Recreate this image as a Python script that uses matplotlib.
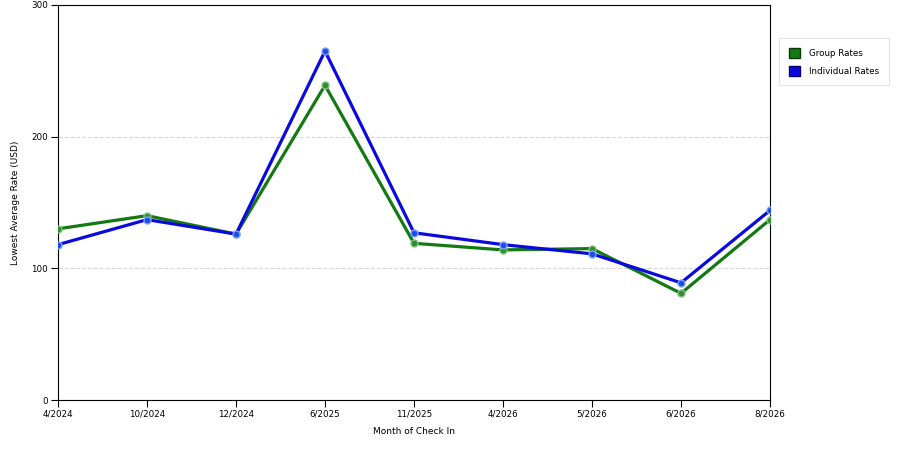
import matplotlib
matplotlib.use("Agg")
import matplotlib.pyplot as plt

# valeurs
mois = ["4/2024", "10/2024", "12/2024", "6/2025", "11/2025",
        "4/2026", "5/2026", "6/2026", "8/2026"]
tarif_groupe = [130, 140, 126, 239, 119, 114, 115, 81, 137]
tarif_individuel = [118, 137, 126, 265, 127, 118, 111, 89, 144]

plt.rcParams['font.family'] = ['DejaVu Sans']

fig = plt.figure(figsize=(9, 4.5), dpi=100)
ax = fig.add_axes([58/900, 50/450, 712/900, 395/450])

x = list(range(len(mois)))
ax.plot(x, tarif_groupe, color="#137a13", lw=2.3, marker="o", ms=5,
        mfc="#2f8f2f", mec="#7fbf7f", mew=1, label="Group Rates", zorder=3)
ax.plot(x, tarif_individuel, color="#0a0ae0", lw=2.3, marker="o", ms=5,
        mfc="#1a4fe8", mec="#7f9fff", mew=1, label="Individual Rates", zorder=4)

ax.set_xlim(0, len(mois) - 1)
ax.set_ylim(0, 300)
ax.set_yticks([0, 100, 200, 300])
ax.set_xticks(x)
ax.set_xticklabels(mois)
ax.tick_params(labelsize=6.3, length=5, width=0.8, direction="out", pad=2)
ax.grid(axis="y", linestyle="--", color="#d8d8d8", lw=0.8)
ax.set_axisbelow(True)
for s in ax.spines.values():
    s.set_linewidth(0.8)

ax.set_xlabel("Month of Check In", fontsize=6.5, labelpad=6)
ax.set_ylabel("Lowest Average Rate (USD)", fontsize=6.5, labelpad=8)

leg = fig.legend(handles=[plt.Rectangle((0, 0), 1, 1, fc="#137a13", ec="#0a3a0a"),
                          plt.Rectangle((0, 0), 1, 1, fc="#0a0ae0", ec="#05056a")],
                 labels=["Group Rates", "Individual Rates"],
                 loc="upper left", bbox_to_anchor=(779/900, 1 - 38/450),
                 fontsize=6.3, frameon=True, fancybox=False,
                 handlelength=1.3, handleheight=1.4, borderpad=1.1,
                 labelspacing=0.9, handletextpad=1.0, borderaxespad=0)
leg.get_frame().set_edgecolor("#dddddd")
leg.get_frame().set_linewidth(0.8)

fig.savefig("out.png", dpi=100)
